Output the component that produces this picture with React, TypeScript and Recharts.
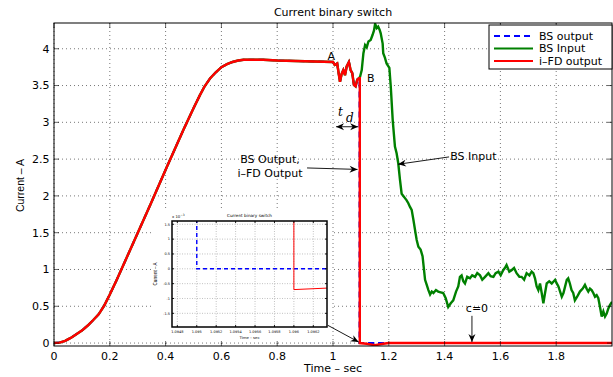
import React from "react";
import { LineChart, Line, XAxis, YAxis, CartesianGrid } from "recharts";

// main axes
const xTicks = [0, 0.2, 0.4, 0.6, 0.8, 1, 1.2, 1.4, 1.6, 1.8];
const yTicks = [0, 0.5, 1, 1.5, 2, 2.5, 3, 3.5, 4];

// ramp up + plateau (all three curves share it)
const rampTime = [0, 0.02, 0.04, 0.06, 0.08, 0.1, 0.12, 0.14, 0.16, 0.18, 0.2, 0.225, 0.284, 0.344, 0.404, 0.464, 0.5, 0.523, 0.54, 0.56, 0.58, 0.6, 0.62, 0.64, 0.66, 0.68, 0.7, 0.75, 0.8, 0.9, 1.0];
const rampCurrent = [0, 0.006, 0.03, 0.07, 0.12, 0.17, 0.235, 0.31, 0.39, 0.51, 0.66, 0.86, 1.36, 1.87, 2.39, 2.9, 3.19, 3.37, 3.49, 3.6, 3.68, 3.75, 3.79, 3.82, 3.84, 3.85, 3.85, 3.85, 3.84, 3.83, 3.82];

// disturbance between A and B
const dipTime = [1.006, 1.015, 1.025, 1.031, 1.037, 1.043, 1.049, 1.057, 1.063, 1.069, 1.075, 1.081, 1.087, 1.093];
const dipCurrent = [3.78, 3.8, 3.55, 3.66, 3.71, 3.64, 3.76, 3.82, 3.71, 3.67, 3.51, 3.49, 3.58, 3.6];

// BS input after B
const inputTime = [1.097, 1.103, 1.109, 1.115, 1.121, 1.127, 1.135, 1.142, 1.147, 1.151, 1.157, 1.162, 1.167, 1.171, 1.178, 1.18, 1.186, 1.192, 1.202, 1.207, 1.214, 1.222, 1.228, 1.234, 1.24, 1.246, 1.252, 1.258, 1.264, 1.27, 1.276, 1.282, 1.288, 1.296, 1.3, 1.306, 1.314, 1.321, 1.326, 1.33, 1.336, 1.342, 1.348, 1.354, 1.36, 1.369, 1.377, 1.386, 1.395, 1.404, 1.413, 1.422, 1.431, 1.441, 1.449, 1.455, 1.461, 1.467, 1.473, 1.481, 1.491, 1.499, 1.509, 1.517, 1.527, 1.535, 1.545, 1.557, 1.565, 1.575, 1.583, 1.593, 1.601, 1.61, 1.616, 1.622, 1.632, 1.64, 1.649, 1.658, 1.668, 1.676, 1.685, 1.694, 1.704, 1.712, 1.718, 1.724, 1.73, 1.736, 1.742, 1.748, 1.754, 1.76, 1.766, 1.775, 1.784, 1.796, 1.802, 1.808, 1.814, 1.82, 1.826, 1.832, 1.838, 1.843, 1.849, 1.855, 1.861, 1.867, 1.875, 1.885, 1.895, 1.903, 1.909, 1.915, 1.921, 1.927, 1.933, 1.939, 1.945, 1.951, 1.957, 1.963, 1.969, 1.975, 1.981, 1.987, 1.993, 2.0];
const inputCurrent = [3.62, 3.71, 3.94, 4.05, 4.02, 4.1, 4.12, 4.19, 4.25, 4.34, 4.28, 4.3, 4.26, 4.21, 4.07, 3.94, 3.88, 3.8, 3.74, 3.49, 3.03, 2.67, 2.58, 2.44, 2.22, 2.03, 2.0, 1.97, 1.94, 1.9, 1.85, 1.81, 1.68, 1.49, 1.4, 1.31, 1.27, 1.18, 1.0, 0.86, 0.79, 0.72, 0.66, 0.7, 0.68, 0.72, 0.7, 0.69, 0.68, 0.61, 0.49, 0.54, 0.58, 0.7, 0.77, 0.9, 0.92, 0.84, 0.81, 0.9, 0.88, 0.92, 0.9, 0.95, 0.92, 0.86, 0.9, 0.95, 0.91, 0.9, 0.95, 0.97, 0.92, 0.99, 1.02, 1.06, 0.97, 0.99, 1.02, 0.95, 0.9, 0.9, 0.86, 0.95, 0.92, 0.97, 0.95, 0.88, 0.77, 0.72, 0.81, 0.68, 0.54, 0.68, 0.81, 0.84, 0.81, 0.86, 0.81, 0.77, 0.7, 0.63, 0.68, 0.77, 0.86, 0.88, 0.81, 0.72, 0.68, 0.58, 0.63, 0.7, 0.74, 0.79, 0.74, 0.7, 0.74, 0.72, 0.68, 0.63, 0.65, 0.61, 0.49, 0.36, 0.43, 0.36, 0.4, 0.47, 0.52, 0.56];

// outputs after the switch
const fdTime = [1.096, 1.096, 1.12, 1.15, 1.18, 1.2, 2];
const fdCurrent = [3.6, 0, -0.01, -0.03, -0.01, 0, 0];
const bsTime = [1.095, 1.095, 2];
const bsCurrent = [3.6, 0, 0];

// inset (current in 1e-3 A)
const zoomTicksX = [1.0948, 1.095, 1.0952, 1.0954, 1.0956, 1.0958, 1.096, 1.0962];
const zoomTicksY = [-1.5, -1, -0.5, 0, 0.5, 1, 1.5];
const zoomBsTime = [1.095, 1.095, 1.09634];
const zoomBsCurrent = [3600, 0, 0];
const zoomFdTime = [1.096, 1.096, 1.09634];
const zoomFdCurrent = [3600, -0.7, -0.65];

const toPoints = (ts: number[], vs: number[]) => ts.map((t, k) => ({ t, i: vs[k] }));
const shared = toPoints([...rampTime, ...dipTime], [...rampCurrent, ...dipCurrent]);
const bsOutput = [...shared, ...toPoints(bsTime, bsCurrent)];
const bsInput = [...shared, ...toPoints(inputTime, inputCurrent)];
const fdOutput = [...shared, ...toPoints(fdTime, fdCurrent)];
const zoomBs = toPoints(zoomBsTime, zoomBsCurrent);
const zoomFd = toPoints(zoomFdTime, zoomFdCurrent);

const FONT = "DejaVu Sans, sans-serif";
const W = 613, H = 377;
const PL = 54, PT = 23, PR = 612, PB = 346;
const XD: [number, number] = [0, 2];
const YD: [number, number] = [-0.04, 4.35];
const sx = (t: number) => PL + ((t - XD[0]) / (XD[1] - XD[0])) * (PR - PL);
const sy = (v: number) => PB - ((v - YD[0]) / (YD[1] - YD[0])) * (PB - PT);

// inset geometry (relative to its own box)
const IW = 180, IH = 134;
const IL = 20, IT = 13, IR = 175, IB = 119;
const IXD: [number, number] = [1.094745, 1.096341];
const IYD: [number, number] = [-1.96, 1.61];
const ix = (t: number) => IL + ((t - IXD[0]) / (IXD[1] - IXD[0])) * (IR - IL);
const iy = (v: number) => IB - ((v - IYD[0]) / (IYD[1] - IYD[0])) * (IB - IT);

function Arrow({ x1, y1, x2, y2, both }: { x1: number; y1: number; x2: number; y2: number; both?: boolean }) {
  const head = (ax: number, ay: number, bx: number, by: number) => {
    const a = Math.atan2(by - ay, bx - ax);
    const c = Math.cos(a), s = Math.sin(a);
    const L = 8, w = 3.5, n = 5.5;
    const p = (u: number, v: number) => `${bx - u * c - v * s},${by - u * s + v * c}`;
    return <polygon points={`${bx},${by} ${p(L, w)} ${p(n, 0)} ${p(L, -w)}`} fill="#000" />;
  };
  return (
    <g>
      <line x1={x1} y1={y1} x2={x2} y2={y2} stroke="#000" strokeWidth={0.9} />
      {head(x1, y1, x2, y2)}
      {both && head(x2, y2, x1, y1)}
    </g>
  );
}

// box with inward ticks on all four sides
function Frame({ l, t, r, b, xs, ys, len, width }: { l: number; t: number; r: number; b: number; xs: number[]; ys: number[]; len: number; width: number }) {
  return (
    <g stroke="#000">
      <rect x={l} y={t} width={r - l} height={b - t} fill="none" strokeWidth={width} />
      {xs.map((x) => (
        <g key={"x" + x} strokeWidth={width * 0.6}>
          <line x1={x} x2={x} y1={t} y2={t + len} />
          <line x1={x} x2={x} y1={b} y2={b - len} />
        </g>
      ))}
      {ys.map((y) => (
        <g key={"y" + y} strokeWidth={width * 0.6}>
          <line x1={l} x2={l + len} y1={y} y2={y} />
          <line x1={r} x2={r - len} y1={y} y2={y} />
        </g>
      ))}
    </g>
  );
}

function Inset() {
  return (
    <div style={{ position: "absolute", left: 152, top: 208, width: IW, height: IH, background: "#fff" }}>
      <LineChart width={IW} height={IH} margin={{ top: IT, right: IW - IR, bottom: 0, left: 0 }}>
        <CartesianGrid stroke="#999" strokeDasharray="1 1.5" strokeWidth={0.6}
          verticalPoints={zoomTicksX.map(ix)} horizontalPoints={zoomTicksY.map(iy)} />
        <XAxis dataKey="t" type="number" domain={IXD} ticks={zoomTicksX} allowDataOverflow height={IH - IB}
          interval={0} tickSize={0} tickMargin={3.5} axisLine={false} tickLine={false}
          tick={{ fill: "#000", fontSize: 3.5, fontFamily: FONT }} tickFormatter={(v: number) => String(Number(v.toFixed(4)))} />
        <YAxis type="number" domain={IYD} ticks={zoomTicksY} allowDataOverflow width={IL}
          interval={0} tickSize={0} tickMargin={2} axisLine={false} tickLine={false}
          tick={{ fill: "#000", fontSize: 3.5, fontFamily: FONT }} />
        <Line data={zoomBs} dataKey="i" stroke="#0000ff" strokeWidth={1.4} strokeDasharray="4 3" dot={false} isAnimationActive={false} />
        <Line data={zoomFd} dataKey="i" stroke="#ff0000" strokeWidth={1} dot={false} isAnimationActive={false} />
      </LineChart>
      <svg width={IW} height={IH} style={{ position: "absolute", left: 0, top: 0 }}>
        <Frame l={IL} t={IT} r={IR} b={IB} xs={zoomTicksX.map(ix)} ys={zoomTicksY.map(iy)} len={2} width={1.5} />
        <text x={(IL + IR) / 2} y={9} textAnchor="middle" fontSize={4.2} fontFamily={FONT}>Current binary switch</text>
        <text x={IL} y={10} fontSize={3.8} fontFamily={FONT}>x 10<tspan dy={-2} fontSize={3}>−3</tspan></text>
        <text x={(IL + IR) / 2} y={131} textAnchor="middle" fontSize={3.8} fontFamily={FONT}>Time – sec</text>
        <text transform={`translate(5, ${(IT + IB) / 2}) rotate(-90)`} textAnchor="middle" fontSize={4.5} fontFamily="Liberation Sans, sans-serif">Current – A</text>
      </svg>
    </div>
  );
}

export default function App() {
  const legend = [
    { label: "BS output", color: "#0000ff", dash: "6 4", y: 36 },
    { label: "BS Input", color: "#008000", dash: undefined, y: 48.5 },
    { label: "i–FD output", color: "#ff0000", dash: undefined, y: 61 },
  ];
  return (
    <div style={{ position: "absolute", left: 0, top: 0, width: W, height: H, background: "#fff" }}>
      <LineChart width={W} height={H} margin={{ top: PT, right: W - PR, bottom: 0, left: 0 }}>
        <CartesianGrid stroke="#555" strokeDasharray="1 3" strokeWidth={0.8}
          verticalPoints={xTicks.map(sx)} horizontalPoints={yTicks.map(sy)} />
        <XAxis dataKey="t" type="number" domain={XD} ticks={xTicks} allowDataOverflow height={H - PB}
          interval={0} tickSize={0} tickMargin={6.5} axisLine={false} tickLine={false}
          tick={{ fill: "#000", fontSize: 11, fontFamily: FONT }} />
        <YAxis type="number" domain={YD} ticks={yTicks} allowDataOverflow width={PL}
          interval={0} tickSize={0} tickMargin={4.5} axisLine={false} tickLine={false}
          tick={{ fill: "#000", fontSize: 11, fontFamily: FONT }} />
        <Line data={bsOutput} dataKey="i" stroke="#0000ff" strokeWidth={2} strokeDasharray="6 4" dot={false} isAnimationActive={false} />
        <Line data={bsInput} dataKey="i" stroke="#008000" strokeWidth={2.4} dot={false} isAnimationActive={false} />
        <Line data={fdOutput} dataKey="i" stroke="#ff0000" strokeWidth={2.4} dot={false} isAnimationActive={false} />
      </LineChart>

      <Inset />

      <svg width={W} height={H} style={{ position: "absolute", left: 0, top: 0, pointerEvents: "none" }}>
        <Frame l={PL} t={PT} r={PR} b={PB} xs={xTicks.map(sx)} ys={yTicks.map(sy)} len={5} width={1} />

        <text x={(PL + PR) / 2} y={15.7} textAnchor="middle" fontSize={11} fontFamily={FONT}>Current binary switch</text>
        <text x={(PL + PR) / 2} y={372} textAnchor="middle" fontSize={11} fontFamily={FONT}>Time – sec</text>
        <text transform={`translate(24, ${(PT + PB) / 2 + 1}) rotate(-90)`} textAnchor="middle" fontSize={10.5} fontFamily="Liberation Sans, sans-serif">Current – A</text>

        <text x={sx(0.9935)} y={sy(3.9)} textAnchor="middle" dominantBaseline="central" fontSize={11} fontFamily={FONT}>A</text>
        <text x={sx(1.135)} y={sy(3.6)} textAnchor="middle" dominantBaseline="central" fontSize={11} fontFamily={FONT}>B</text>
        <text x={sx(1.027)} y={sy(3.08)} textAnchor="middle" fontSize={12} fontStyle="italic" fontFamily="DejaVu Serif, serif">t</text>
        <text x={sx(1.06)} y={sy(3.0)} textAnchor="middle" fontSize={12} fontStyle="italic" fontFamily="DejaVu Serif, serif">d</text>
        <Arrow x1={sx(1.011)} y1={sy(2.94)} x2={sx(1.09)} y2={sy(2.94)} both />

        <text x={sx(0.774)} y={sy(2.49)} textAnchor="middle" dominantBaseline="central" fontSize={11} fontFamily={FONT}>BS Output,</text>
        <text x={sx(0.774)} y={sy(2.3)} textAnchor="middle" dominantBaseline="central" fontSize={11} fontFamily={FONT}>i–FD Output</text>
        <Arrow x1={sx(0.907)} y1={sy(2.38)} x2={sx(1.088)} y2={sy(2.36)} />

        <text x={sx(1.42)} y={sy(2.53)} dominantBaseline="central" fontSize={11} fontFamily={FONT}>BS Input</text>
        <Arrow x1={sx(1.416)} y1={sy(2.53)} x2={sx(1.233)} y2={sy(2.43)} />

        <text x={sx(1.516)} y={sy(0.47)} textAnchor="middle" dominantBaseline="central" fontSize={11} fontFamily={FONT}>c=0</text>
        <Arrow x1={sx(1.498)} y1={sy(0.37)} x2={sx(1.498)} y2={sy(0.015)} />

        <Arrow x1={sx(0.982)} y1={sy(0.24)} x2={sx(1.092)} y2={sy(0.014)} />

        <rect x={489} y={25} width={123} height={44} fill="#fff" stroke="#000" />
        {legend.map((l) => (
          <g key={l.label}>
            <line x1={494} x2={533} y1={l.y} y2={l.y} stroke={l.color} strokeWidth={2} strokeDasharray={l.dash} />
            <text x={539} y={l.y} dominantBaseline="central" fontSize={11} fontFamily={FONT}>{l.label}</text>
          </g>
        ))}
      </svg>
    </div>
  );
}
